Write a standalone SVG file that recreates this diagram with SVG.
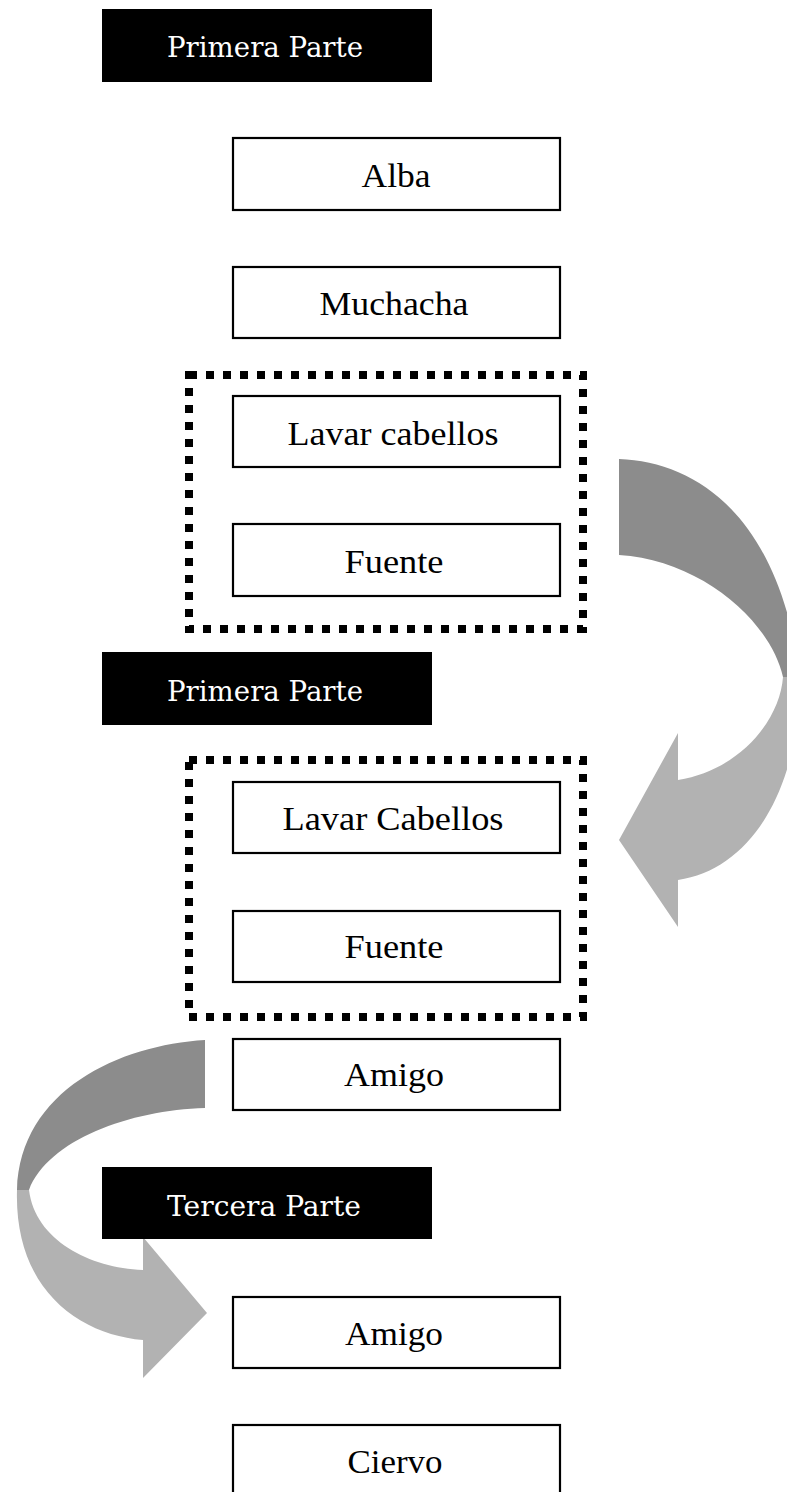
<svg xmlns="http://www.w3.org/2000/svg" width="787" height="1492" viewBox="0 0 787 1492">
  <style>
    .hdr rect { fill: #000; }
    .hdr text { fill: #fff; font-family: "DejaVu Serif", "Liberation Serif", serif; font-size: 27px; text-anchor: middle; }
    .box rect { fill: #fff; stroke: #000; stroke-width: 2.2; }
    .box text { fill: #000; font-family: "Liberation Serif", "Times New Roman", serif; font-size: 33px; text-anchor: middle; }
    .group rect { fill: none; stroke: #000; stroke-width: 8; stroke-dasharray: 8 9; }
    .dark { fill: #8c8c8c; }
    .light { fill: #b2b2b2; }
  </style>

  <rect width="787" height="1492" fill="#fff"/>

  <!-- curved ribbon arrows -->
  <g id="connectors">
    <g id="arrow-right">
      <path class="dark" d="M619,459 C700,462 780,520 800,677 L783,677 C770,620 700,560 619,555 Z"/>
      <path class="light" d="M783,677 L800,677 C800,790 750,870 678,880 L678,927 L619,840 L678,733 L678,780 C740,770 780,720 783,677 Z"/>
    </g>
    <g id="arrow-left">
      <path class="dark" d="M205,1040 C120,1045 20,1090 17,1190 L29,1190 C48,1140 130,1110 205,1108 Z"/>
      <path class="light" d="M17,1190 C14,1290 80,1335 143,1340 L143,1378 L207,1313 L143,1237 L143,1270 C90,1268 35,1240 29,1190 Z"/>
    </g>
  </g>

  <!-- section headers -->
  <g id="hdr-primera-1" class="hdr">
    <rect x="102" y="9" width="330" height="73"/>
    <text x="265" y="57" textLength="196" lengthAdjust="spacingAndGlyphs">Primera Parte</text>
  </g>
  <g id="hdr-primera-2" class="hdr">
    <rect x="102" y="652" width="330" height="73"/>
    <text x="265" y="701" textLength="196" lengthAdjust="spacingAndGlyphs">Primera Parte</text>
  </g>
  <g id="hdr-tercera" class="hdr">
    <rect x="102" y="1167" width="330" height="72"/>
    <text x="264" y="1216" textLength="194" lengthAdjust="spacingAndGlyphs">Tercera Parte</text>
  </g>

  <!-- dotted groupings -->
  <g id="group-1" class="group">
    <rect x="189" y="375" width="394" height="254"/>
  </g>
  <g id="group-2" class="group">
    <rect x="189" y="760" width="394" height="257"/>
  </g>

  <!-- boxes -->
  <g id="box-alba" class="box">
    <rect x="233" y="138" width="327" height="72"/>
    <text x="396" y="187" textLength="69" lengthAdjust="spacingAndGlyphs">Alba</text>
  </g>
  <g id="box-muchacha" class="box">
    <rect x="233" y="267" width="327" height="71"/>
    <text x="394" y="315" textLength="149" lengthAdjust="spacingAndGlyphs">Muchacha</text>
  </g>
  <g id="box-lavar-1" class="box">
    <rect x="233" y="396" width="327" height="71"/>
    <text x="393" y="445" textLength="211" lengthAdjust="spacingAndGlyphs">Lavar cabellos</text>
  </g>
  <g id="box-fuente-1" class="box">
    <rect x="233" y="524" width="327" height="72"/>
    <text x="394" y="573" textLength="99" lengthAdjust="spacingAndGlyphs">Fuente</text>
  </g>
  <g id="box-lavar-2" class="box">
    <rect x="233" y="782" width="327" height="71"/>
    <text x="393" y="830" textLength="221" lengthAdjust="spacingAndGlyphs">Lavar Cabellos</text>
  </g>
  <g id="box-fuente-2" class="box">
    <rect x="233" y="911" width="327" height="71"/>
    <text x="394" y="958" textLength="99" lengthAdjust="spacingAndGlyphs">Fuente</text>
  </g>
  <g id="box-amigo-1" class="box">
    <rect x="233" y="1039" width="327" height="71"/>
    <text x="394" y="1086" textLength="100" lengthAdjust="spacingAndGlyphs">Amigo</text>
  </g>
  <g id="box-amigo-2" class="box">
    <rect x="233" y="1297" width="327" height="71"/>
    <text x="394" y="1345" textLength="98" lengthAdjust="spacingAndGlyphs">Amigo</text>
  </g>
  <g id="box-ciervo" class="box">
    <rect x="233" y="1425" width="327" height="72"/>
    <text x="395" y="1473" textLength="95" lengthAdjust="spacingAndGlyphs">Ciervo</text>
  </g>
</svg>
